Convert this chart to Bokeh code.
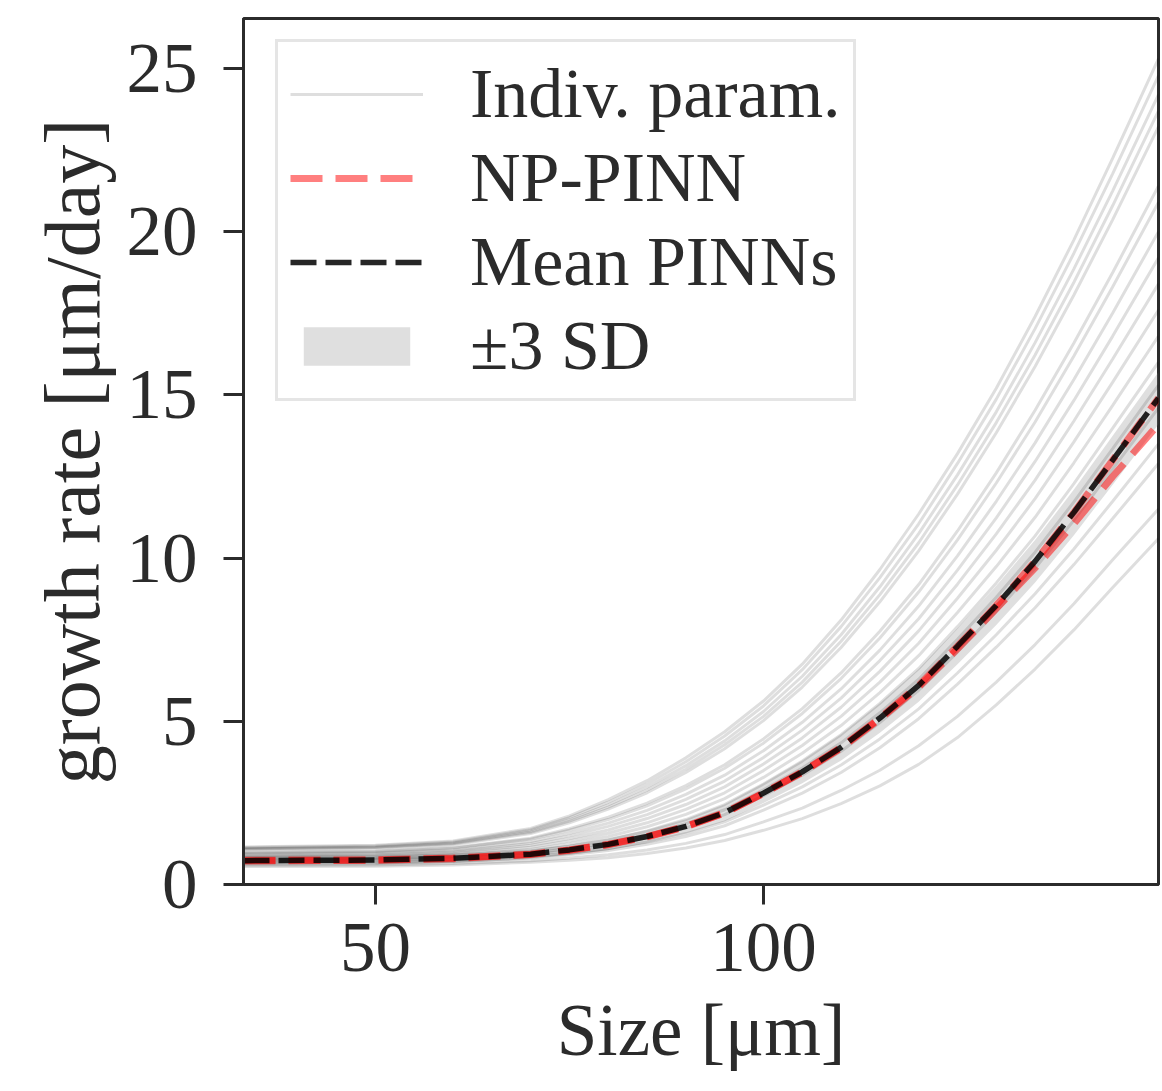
import numpy as np
from bokeh.plotting import figure
from bokeh.models import Legend, LegendItem, Range1d, FixedTicker
from bokeh.embed import file_html
from bokeh.resources import INLINE

# ---------------- data ----------------
size_x = [33, 50, 60, 70, 75, 80, 85, 90, 95, 100, 105, 110, 115, 120, 125, 130, 135, 140, 145, 150.9]

indiv_curves = [
    [1.15, 1.20, 1.33, 1.72, 2.10, 2.60, 3.18, 3.88, 4.68, 5.62, 6.75, 8.10, 9.65, 11.35, 13.20, 15.20, 17.40, 19.75, 22.25, 25.30],
    [1.13, 1.18, 1.30, 1.68, 2.05, 2.52, 3.08, 3.76, 4.55, 5.47, 6.58, 7.90, 9.40, 11.05, 12.90, 14.87, 17.03, 19.34, 21.78, 24.78],
    [1.10, 1.15, 1.27, 1.64, 1.99, 2.44, 2.98, 3.64, 4.40, 5.30, 6.38, 7.65, 9.12, 10.75, 12.55, 14.48, 16.60, 18.86, 21.25, 24.20],
    [1.09, 1.13, 1.25, 1.60, 1.94, 2.37, 2.89, 3.53, 4.28, 5.15, 6.20, 7.45, 8.88, 10.47, 12.24, 14.15, 16.22, 18.45, 20.80, 23.70],
    [1.07, 1.11, 1.22, 1.56, 1.89, 2.31, 2.81, 3.43, 4.16, 5.02, 6.05, 7.26, 8.66, 10.22, 11.96, 13.84, 15.87, 18.06, 20.37, 23.22],
    [0.99, 1.03, 1.13, 1.42, 1.71, 2.06, 2.49, 3.03, 3.67, 4.46, 5.39, 6.48, 7.76, 9.19, 10.83, 12.61, 14.53, 16.59, 18.75, 21.40],
    [0.97, 1.01, 1.11, 1.39, 1.66, 1.99, 2.41, 2.93, 3.56, 4.33, 5.24, 6.31, 7.55, 8.96, 10.56, 12.30, 14.17, 16.19, 18.31, 20.90],
    [0.94, 0.97, 1.06, 1.32, 1.57, 1.88, 2.27, 2.76, 3.35, 4.10, 4.97, 5.99, 7.18, 8.53, 10.07, 11.74, 13.53, 15.47, 17.51, 20.00],
    [0.90, 0.94, 1.02, 1.26, 1.49, 1.78, 2.14, 2.61, 3.17, 3.89, 4.73, 5.71, 6.86, 8.14, 9.63, 11.23, 12.96, 14.83, 16.80, 19.20],
    [0.87, 0.90, 0.98, 1.20, 1.41, 1.67, 2.02, 2.45, 2.99, 3.69, 4.49, 5.43, 6.53, 7.77, 9.20, 10.74, 12.39, 14.20, 16.10, 18.40],
    [0.84, 0.87, 0.94, 1.14, 1.33, 1.57, 1.89, 2.30, 2.81, 3.49, 4.26, 5.15, 6.20, 7.39, 8.77, 10.24, 11.82, 13.56, 15.39, 17.60],
    [0.81, 0.83, 0.90, 1.07, 1.25, 1.47, 1.77, 2.15, 2.63, 3.28, 4.02, 4.87, 5.88, 7.01, 8.33, 9.74, 11.25, 12.92, 14.68, 16.80],
    [0.77, 0.80, 0.86, 1.01, 1.17, 1.37, 1.64, 1.99, 2.45, 3.08, 3.78, 4.59, 5.55, 6.62, 7.90, 9.24, 10.68, 12.28, 13.98, 16.00],
    [0.75, 0.77, 0.82, 0.96, 1.10, 1.28, 1.53, 1.86, 2.29, 2.90, 3.57, 4.34, 5.26, 6.29, 7.51, 8.80, 10.18, 11.72, 13.35, 15.30],
    [0.72, 0.74, 0.79, 0.91, 1.04, 1.20, 1.43, 1.73, 2.14, 2.72, 3.35, 4.08, 4.96, 5.95, 7.12, 8.36, 9.69, 11.16, 12.73, 14.60],
    [0.67, 0.69, 0.73, 0.85, 0.96, 1.10, 1.30, 1.56, 1.92, 2.43, 2.99, 3.66, 4.46, 5.38, 6.48, 7.65, 8.91, 10.28, 11.74, 13.50],
    [0.65, 0.66, 0.71, 0.81, 0.91, 1.04, 1.23, 1.47, 1.80, 2.28, 2.80, 3.43, 4.19, 5.08, 6.14, 7.27, 8.48, 9.80, 11.21, 12.90],
    [0.59, 0.60, 0.64, 0.73, 0.81, 0.91, 1.06, 1.26, 1.53, 1.92, 2.34, 2.88, 3.50, 4.25, 5.15, 6.20, 7.35, 8.60, 9.95, 11.50],
    [0.55, 0.56, 0.60, 0.68, 0.74, 0.82, 0.95, 1.12, 1.35, 1.66, 2.02, 2.48, 3.02, 3.68, 4.50, 5.50, 6.60, 7.80, 9.10, 10.60],
]

mean_pinns = [0.73, 0.75, 0.80, 0.93, 1.06, 1.23, 1.47, 1.78, 2.20, 2.80, 3.45, 4.20, 5.10, 6.10, 7.30, 8.55, 9.90, 11.40, 13.00, 14.90]
np_pinn_a = [0.74, 0.76, 0.81, 0.93, 1.06, 1.23, 1.47, 1.78, 2.20, 2.80, 3.45, 4.20, 5.10, 6.10, 7.30, 8.55, 9.90, 11.40, 13.00, 14.90]
np_pinn_b = [0.72, 0.74, 0.79, 0.92, 1.05, 1.22, 1.46, 1.77, 2.19, 2.79, 3.44, 4.18, 5.07, 6.05, 7.22, 8.45, 9.70, 11.05, 12.50, 14.10]
sd_lower = [0.58, 0.60, 0.65, 0.78, 0.90, 1.05, 1.27, 1.56, 1.94, 2.50, 3.10, 3.80, 4.65, 5.60, 6.75, 7.95, 9.25, 10.70, 12.25, 14.10]
sd_upper = [0.88, 0.90, 0.95, 1.08, 1.22, 1.41, 1.67, 2.00, 2.46, 3.10, 3.80, 4.60, 5.55, 6.60, 7.85, 9.15, 10.55, 12.10, 13.75, 15.70]

x_ticks = [50, 100]
y_ticks = [0, 5, 10, 15, 20, 25]

FONT = "Liberation Serif"
DARK = "#2b2b2b"

p = figure(
    output_backend="svg", toolbar_location=None,
    frame_width=915, frame_height=866,
    min_border_left=243, min_border_right=4, min_border_top=18, min_border_bottom=207,
    x_range=Range1d(33.0, 150.9), y_range=Range1d(0, 26.53),
)
p.background_fill_color = "white"
p.border_fill_color = "white"
p.grid.visible = False
p.outline_line_color = DARK
p.outline_line_width = 3

band = p.varea(x=size_x, y1=sd_lower, y2=sd_upper, fill_color="#808080", fill_alpha=0.25)
indiv = p.multi_line(xs=[size_x] * len(indiv_curves), ys=indiv_curves,
                     line_color="black", line_alpha=0.13, line_width=3)
np_b = p.line(size_x, np_pinn_b, line_color="red", line_alpha=0.5, line_width=7, line_dash="32 13")
np_a = p.line(size_x, np_pinn_a, line_color="red", line_alpha=0.5, line_width=7, line_dash="32 13")
mean_r = p.line(size_x, mean_pinns, line_color="black", line_alpha=0.85, line_width=5.5, line_dash="26 9")

for ax in (p.xaxis[0], p.yaxis[0]):
    ax.axis_line_color = DARK
    ax.axis_line_width = 3
    ax.major_tick_line_color = DARK
    ax.major_tick_line_width = 3
    ax.major_tick_in = 0
    ax.major_tick_out = 20
    ax.minor_tick_line_color = None
    ax.major_label_text_font = FONT
    ax.major_label_text_font_size = "71px"
    ax.major_label_text_color = DARK
    ax.axis_label_text_font = FONT
    ax.axis_label_text_font_style = "normal"
    ax.axis_label_text_color = DARK

p.xaxis.ticker = FixedTicker(ticks=x_ticks)
p.yaxis.ticker = FixedTicker(ticks=y_ticks)
p.xaxis.major_label_standoff = 19
p.yaxis.major_label_standoff = 26
p.xaxis.axis_label = "Size [μm]"
p.yaxis.axis_label = "growth rate [μm/day]"
p.xaxis.axis_label_text_font_size = "73px"
p.yaxis.axis_label_text_font_size = "78px"
p.xaxis.axis_label_standoff = 16
p.yaxis.axis_label_standoff = 8

legend = Legend(items=[
    LegendItem(label="Indiv. param.", renderers=[indiv]),
    LegendItem(label="NP-PINN", renderers=[np_a]),
    LegendItem(label="Mean PINNs", renderers=[mean_r]),
    LegendItem(label="±3 SD", renderers=[band]),
], location=(32, 483))
legend.margin = 0
legend.padding = 12
legend.spacing = 4
legend.glyph_width = 133
legend.glyph_height = 48
legend.label_standoff = 47
legend.label_text_font = FONT
legend.label_text_font_size = "70px"
legend.label_text_color = DARK
legend.border_line_color = "#cccccc"
legend.border_line_width = 3
legend.background_fill_alpha = 0.8
p.add_layout(legend)

open("out.html", "w").write(file_html(p, INLINE))
